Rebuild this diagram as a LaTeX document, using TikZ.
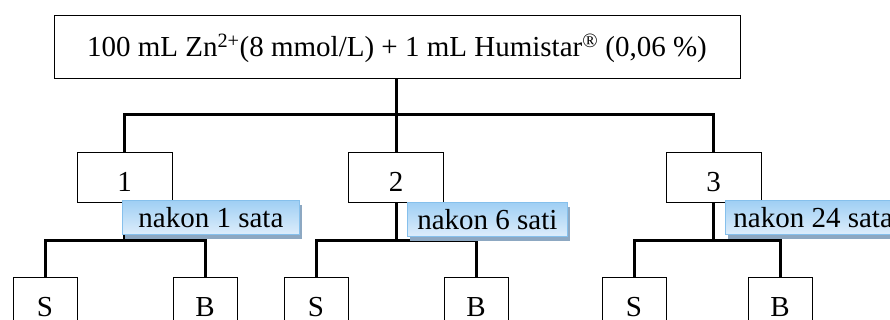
\documentclass[tikz,border=0pt]{standalone}
\usepackage{fontspec}
\setmainfont{Liberation Serif}
\usetikzlibrary{shadows,positioning,calc}

\definecolor{notetop}{HTML}{9FCFF4}
\definecolor{notebot}{HTML}{DDEDFB}
\definecolor{noteline}{HTML}{86C0EC}
\definecolor{noteshadow}{HTML}{8DA8C2}

\tikzset{
  box/.style={draw, line width=1pt, inner sep=0pt, text depth=0pt},
  bar/.style={line width=3pt},
  note/.style={draw=noteline, line width=0.8pt, top color=notetop, bottom color=notebot,
    drop shadow={fill=noteshadow, opacity=1, shadow xshift=3pt, shadow yshift=-5pt},
    inner xsep=8pt, inner ysep=0pt, minimum height=34pt, text height=20pt, text depth=0pt,
    anchor=north west}
}

\begin{document}
\begin{tikzpicture}[x=1pt,y=-1pt,font=\fontsize{29}{34}\selectfont]
  \useasboundingbox (0,0) rectangle (890,320);
  \clip (0,0) rectangle (890,320);

  \node[box, minimum width=686pt, minimum height=63pt, text height=20pt] (mix) at (397,47)
    {100 mL Zn\textsuperscript{2+}(8 mmol/L) + 1 mL Humistar\textsuperscript{®} (0,06~\%)};

  \node[box, minimum width=95pt, minimum height=50pt, text height=28pt] (t1) at (124.5,177.5) {1};
  \node[box, minimum width=95pt, minimum height=50pt, text height=28pt] (t2) at (396,177.5) {2};
  \node[box, minimum width=95pt, minimum height=50pt, text height=28pt] (t3) at (713.5,177.5) {3};

  \node[box, minimum width=64pt, minimum height=52pt, text height=26pt] (S1) at (45,303) {S};
  \node[box, minimum width=64pt, minimum height=52pt, text height=26pt] (B1) at (205,303) {B};
  \node[box, minimum width=64pt, minimum height=52pt, text height=26pt] (S2) at (316,303) {S};
  \node[box, minimum width=64pt, minimum height=52pt, text height=26pt] (B2) at (476,303) {B};
  \node[box, minimum width=64pt, minimum height=52pt, text height=26pt] (S3) at (634,303) {S};
  \node[box, minimum width=64pt, minimum height=52pt, text height=26pt] (B3) at (780,303) {B};

  \draw[bar] (t2.north) -- (t2.north |- mix.south);
  \coordinate (split) at (t2.north |- 0,115);
  \draw[bar] (t1.north) |- (split) -| (t3.north);

  \foreach \i in {1,2,3} {
    \coordinate (j\i) at (t\i.south |- 0,240);
    \draw[bar] (t\i.south) -- (j\i);
    \draw[bar] (S\i.north) |- (j\i) -| (B\i.north);
  }

  \node[note, minimum width=177pt] (after1) at (122,200) {nakon 1 sata};
  \node[note, minimum width=160pt] (after6) at (407,202) {nakon 6 sati};
  \node[note] (after24) at (725,200) {nakon 24 sata};
\end{tikzpicture}
\end{document}
